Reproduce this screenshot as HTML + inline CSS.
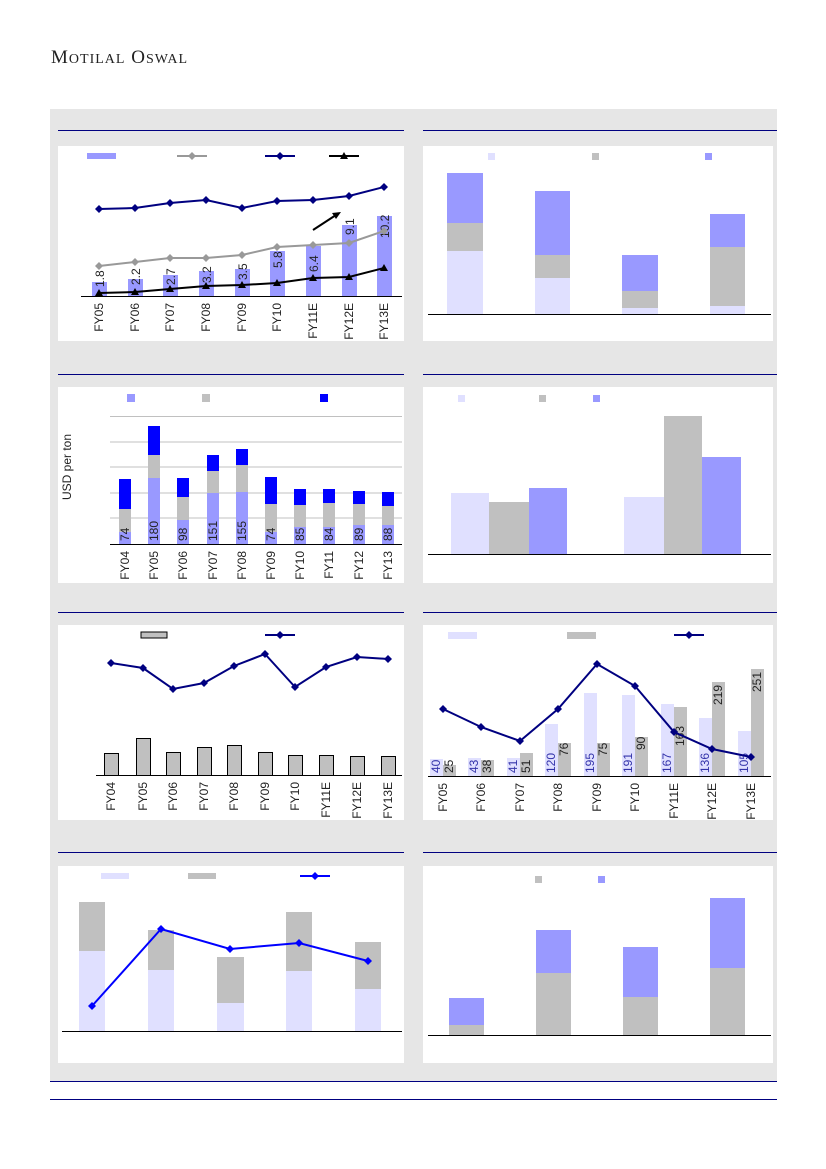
<!DOCTYPE html>
<html><head><meta charset="utf-8"><style>
html,body{margin:0;padding:0;background:#fff;}
svg{display:block;font-family:"Liberation Sans",sans-serif;}
</style></head><body>
<svg width="826" height="1169" viewBox="0 0 826 1169" xmlns="http://www.w3.org/2000/svg">
<text x="51" y="63" font-family="Liberation Serif,serif" font-size="19" fill="#222" letter-spacing="1">M<tspan font-size="14">OTILAL</tspan> O<tspan font-size="14">SWAL</tspan></text>
<rect x="50" y="109" width="727" height="972" fill="#e6e6e6"/>
<line x1="50" y1="1081.5" x2="777" y2="1081.5" stroke="#000080" stroke-width="1"/>
<line x1="50" y1="1099.5" x2="777" y2="1099.5" stroke="#000080" stroke-width="1"/>
<g stroke="#000080" stroke-width="1">
<line x1="58" y1="130.5" x2="404" y2="130.5"/><line x1="423" y1="130.5" x2="777" y2="130.5"/>
<line x1="58" y1="374.5" x2="404" y2="374.5"/><line x1="423" y1="374.5" x2="777" y2="374.5"/>
<line x1="58" y1="612.5" x2="404" y2="612.5"/><line x1="423" y1="612.5" x2="777" y2="612.5"/>
<line x1="58" y1="852.5" x2="404" y2="852.5"/><line x1="423" y1="852.5" x2="777" y2="852.5"/>
</g>
<g fill="#fff">
<rect x="58" y="146" width="346" height="195"/><rect x="423" y="146" width="350" height="195"/>
<rect x="58" y="387" width="346" height="196"/><rect x="423" y="387" width="350" height="196"/>
<rect x="58" y="625" width="346" height="195"/><rect x="423" y="625" width="350" height="195"/>
<rect x="58" y="866" width="346" height="197"/><rect x="423" y="866" width="350" height="197"/>
</g>

<!-- Chart 1 -->
<rect x="87" y="153" width="29" height="6" fill="#9999ff"/>
<line x1="177" y1="156" x2="207" y2="156" stroke="#999" stroke-width="2"/><path d="M192 152l4 4-4 4-4-4z" fill="#999"/>
<line x1="265" y1="156" x2="295" y2="156" stroke="#000080" stroke-width="2"/><path d="M280 152l4 4-4 4-4-4z" fill="#000080"/>
<line x1="329" y1="156" x2="359" y2="156" stroke="#000" stroke-width="2"/><path d="M344 152l4 7h-8z" fill="#000"/>
<g fill="#9999ff">
<rect x="92" y="282" width="15" height="14"/><rect x="128" y="279" width="15" height="17"/><rect x="163" y="275" width="15" height="21"/><rect x="199" y="271" width="15" height="25"/><rect x="235" y="269" width="15" height="27"/><rect x="270" y="251" width="15" height="45"/><rect x="306" y="246" width="15" height="50"/><rect x="342" y="225" width="15" height="71"/><rect x="377" y="216" width="15" height="80"/>
</g>
<line x1="81" y1="296.5" x2="402" y2="296.5" stroke="#000"/>
<g font-size="12" fill="#222" text-anchor="start">
<text transform="translate(104,287) rotate(-90)">1.8</text>
<text transform="translate(140,285) rotate(-90)">2.2</text>
<text transform="translate(175,285) rotate(-90)">2.7</text>
<text transform="translate(211,283) rotate(-90)">3.2</text>
<text transform="translate(247,280) rotate(-90)">3.5</text>
<text transform="translate(282,268) rotate(-90)">5.8</text>
<text transform="translate(318,272) rotate(-90)">6.4</text>
<text transform="translate(354,235) rotate(-90)">9.1</text>
<text transform="translate(389,238) rotate(-90)">10.2</text>
</g>
<polyline points="99,266 135,262 170,258 206,258 242,255 277,247 313,245 349,243 384,231" fill="none" stroke="#999" stroke-width="2"/>
<g fill="#999"><path d="M99 262l4 4-4 4-4-4zM135 258l4 4-4 4-4-4zM170 254l4 4-4 4-4-4zM206 254l4 4-4 4-4-4zM242 251l4 4-4 4-4-4zM277 243l4 4-4 4-4-4zM313 241l4 4-4 4-4-4zM349 239l4 4-4 4-4-4zM384 227l4 4-4 4-4-4z"/></g>
<polyline points="99,209 135,208 170,203 206,200 242,208 277,201 313,200 349,196 384,187" fill="none" stroke="#000080" stroke-width="2"/>
<g fill="#000080"><path d="M99 205l4 4-4 4-4-4zM135 204l4 4-4 4-4-4zM170 199l4 4-4 4-4-4zM206 196l4 4-4 4-4-4zM242 204l4 4-4 4-4-4zM277 197l4 4-4 4-4-4zM313 196l4 4-4 4-4-4zM349 192l4 4-4 4-4-4zM384 183l4 4-4 4-4-4z"/></g>
<polyline points="99,293 135,292 170,289 206,286 242,285 277,283 313,278 349,277 384,268" fill="none" stroke="#000" stroke-width="2"/>
<g fill="#000"><path d="M99 289l4 7h-8zM135 288l4 7h-8zM170 285l4 7h-8zM206 282l4 7h-8zM242 281l4 7h-8zM277 279l4 7h-8zM313 274l4 7h-8zM349 273l4 7h-8zM384 264l4 7h-8z"/></g>
<line x1="313" y1="230" x2="336" y2="215" stroke="#000" stroke-width="2"/><path d="M341 212l-9 1 4 6z" fill="#000"/>
<g font-size="12" fill="#222" text-anchor="end">
<text transform="translate(103,303) rotate(-90)">FY05</text>
<text transform="translate(139,303) rotate(-90)">FY06</text>
<text transform="translate(174,303) rotate(-90)">FY07</text>
<text transform="translate(210,303) rotate(-90)">FY08</text>
<text transform="translate(246,303) rotate(-90)">FY09</text>
<text transform="translate(281,303) rotate(-90)">FY10</text>
<text transform="translate(317,303) rotate(-90)">FY11E</text>
<text transform="translate(353,303) rotate(-90)">FY12E</text>
<text transform="translate(388,303) rotate(-90)">FY13E</text>
</g>

<!-- Chart 2 -->
<rect x="488" y="153" width="7" height="7" fill="#e0e0ff"/><rect x="592" y="153" width="7" height="7" fill="#c0c0c0"/><rect x="705" y="153" width="7" height="7" fill="#9999ff"/>
<rect x="447" y="251" width="36" height="63" fill="#e0e0ff"/><rect x="447" y="223" width="36" height="28" fill="#c0c0c0"/><rect x="447" y="173" width="36" height="50" fill="#9999ff"/>
<rect x="535" y="278" width="35" height="36" fill="#e0e0ff"/><rect x="535" y="255" width="35" height="23" fill="#c0c0c0"/><rect x="535" y="191" width="35" height="64" fill="#9999ff"/>
<rect x="622" y="308" width="36" height="6" fill="#e0e0ff"/><rect x="622" y="291" width="36" height="17" fill="#c0c0c0"/><rect x="622" y="255" width="36" height="36" fill="#9999ff"/>
<rect x="710" y="306" width="35" height="8" fill="#e0e0ff"/><rect x="710" y="247" width="35" height="59" fill="#c0c0c0"/><rect x="710" y="214" width="35" height="33" fill="#9999ff"/>
<line x1="428" y1="314.5" x2="771" y2="314.5" stroke="#000"/>

<!-- Chart 3 -->
<rect x="127" y="394" width="8" height="8" fill="#9999ff"/><rect x="202" y="394" width="8" height="8" fill="#c0c0c0"/><rect x="320" y="394" width="8" height="8" fill="#0000ff"/>
<g stroke="#c0c0c0"><line x1="110" y1="416.5" x2="402" y2="416.5"/><line x1="110" y1="442" x2="402" y2="442"/><line x1="110" y1="467" x2="402" y2="467"/><line x1="110" y1="493" x2="402" y2="493"/><line x1="110" y1="518" x2="402" y2="518"/></g>
<g>
<rect x="119" y="532" width="12" height="12" fill="#9999ff"/><rect x="119" y="509" width="12" height="23" fill="#c0c0c0"/><rect x="119" y="479" width="12" height="30" fill="#0000ff"/>
<rect x="148" y="478" width="12" height="66" fill="#9999ff"/><rect x="148" y="455" width="12" height="23" fill="#c0c0c0"/><rect x="148" y="426" width="12" height="29" fill="#0000ff"/>
<rect x="177" y="520" width="12" height="24" fill="#9999ff"/><rect x="177" y="497" width="12" height="23" fill="#c0c0c0"/><rect x="177" y="478" width="12" height="19" fill="#0000ff"/>
<rect x="207" y="493" width="12" height="51" fill="#9999ff"/><rect x="207" y="471" width="12" height="22" fill="#c0c0c0"/><rect x="207" y="455" width="12" height="16" fill="#0000ff"/>
<rect x="236" y="492" width="12" height="52" fill="#9999ff"/><rect x="236" y="465" width="12" height="27" fill="#c0c0c0"/><rect x="236" y="449" width="12" height="16" fill="#0000ff"/>
<rect x="265" y="532" width="12" height="12" fill="#9999ff"/><rect x="265" y="504" width="12" height="28" fill="#c0c0c0"/><rect x="265" y="477" width="12" height="27" fill="#0000ff"/>
<rect x="294" y="527" width="12" height="17" fill="#9999ff"/><rect x="294" y="505" width="12" height="22" fill="#c0c0c0"/><rect x="294" y="489" width="12" height="16" fill="#0000ff"/>
<rect x="323" y="527" width="12" height="17" fill="#9999ff"/><rect x="323" y="503" width="12" height="24" fill="#c0c0c0"/><rect x="323" y="489" width="12" height="14" fill="#0000ff"/>
<rect x="353" y="525" width="12" height="19" fill="#9999ff"/><rect x="353" y="504" width="12" height="21" fill="#c0c0c0"/><rect x="353" y="491" width="12" height="13" fill="#0000ff"/>
<rect x="382" y="525" width="12" height="19" fill="#9999ff"/><rect x="382" y="506" width="12" height="19" fill="#c0c0c0"/><rect x="382" y="492" width="12" height="14" fill="#0000ff"/>
</g>
<line x1="110" y1="544.5" x2="402" y2="544.5" stroke="#000"/>
<text transform="translate(71,467) rotate(-90)" font-size="12" fill="#222" text-anchor="middle">USD per  ton</text>
<g font-size="12" fill="#222" text-anchor="start">
<text transform="translate(129,541) rotate(-90)">74</text>
<text transform="translate(158,541) rotate(-90)">180</text>
<text transform="translate(187,541) rotate(-90)">98</text>
<text transform="translate(217,541) rotate(-90)">151</text>
<text transform="translate(246,541) rotate(-90)">155</text>
<text transform="translate(275,541) rotate(-90)">74</text>
<text transform="translate(304,541) rotate(-90)">85</text>
<text transform="translate(333,541) rotate(-90)">84</text>
<text transform="translate(363,541) rotate(-90)">89</text>
<text transform="translate(392,541) rotate(-90)">88</text>
</g>
<g font-size="12" fill="#222" text-anchor="end">
<text transform="translate(129,551) rotate(-90)">FY04</text>
<text transform="translate(158,551) rotate(-90)">FY05</text>
<text transform="translate(187,551) rotate(-90)">FY06</text>
<text transform="translate(217,551) rotate(-90)">FY07</text>
<text transform="translate(246,551) rotate(-90)">FY08</text>
<text transform="translate(275,551) rotate(-90)">FY09</text>
<text transform="translate(304,551) rotate(-90)">FY10</text>
<text transform="translate(333,551) rotate(-90)">FY11</text>
<text transform="translate(363,551) rotate(-90)">FY12</text>
<text transform="translate(392,551) rotate(-90)">FY13</text>
</g>

<!-- Chart 4 -->
<rect x="458" y="395" width="7" height="7" fill="#e0e0ff"/><rect x="539" y="395" width="7" height="7" fill="#c0c0c0"/><rect x="593" y="395" width="7" height="7" fill="#9999ff"/>
<rect x="451" y="493" width="38" height="61" fill="#e0e0ff"/><rect x="489" y="502" width="40" height="52" fill="#c0c0c0"/><rect x="529" y="488" width="38" height="66" fill="#9999ff"/>
<rect x="624" y="497" width="40" height="57" fill="#e0e0ff"/><rect x="664" y="416" width="38" height="138" fill="#c0c0c0"/><rect x="702" y="457" width="39" height="97" fill="#9999ff"/>
<line x1="428" y1="554.5" x2="771" y2="554.5" stroke="#000"/>

<!-- Chart 5 -->
<rect x="141" y="632" width="26" height="6" fill="#c0c0c0" stroke="#000" stroke-width="1"/>
<line x1="265" y1="635" x2="295" y2="635" stroke="#000080" stroke-width="2"/><path d="M280 631l4 4-4 4-4-4z" fill="#000080"/>
<g fill="#c0c0c0" stroke="#000" stroke-width="1">
<rect x="104.5" y="753.5" width="14" height="22"/><rect x="136.5" y="738.5" width="14" height="37"/><rect x="166.5" y="752.5" width="14" height="23"/><rect x="197.5" y="747.5" width="14" height="28"/><rect x="227.5" y="745.5" width="14" height="30"/><rect x="258.5" y="752.5" width="14" height="23"/><rect x="288.5" y="755.5" width="14" height="20"/><rect x="319.5" y="755.5" width="14" height="20"/><rect x="350.5" y="756.5" width="14" height="19"/><rect x="381.5" y="756.5" width="14" height="19"/>
</g>
<line x1="96" y1="775.5" x2="402" y2="775.5" stroke="#000"/>
<polyline points="111,663 143,668 173,689 204,683 234,666 265,654 295,687 326,667 357,657 388,659" fill="none" stroke="#000080" stroke-width="2"/>
<g fill="#000080"><path d="M111 659l4 4-4 4-4-4zM143 664l4 4-4 4-4-4zM173 685l4 4-4 4-4-4zM204 679l4 4-4 4-4-4zM234 662l4 4-4 4-4-4zM265 650l4 4-4 4-4-4zM295 683l4 4-4 4-4-4zM326 663l4 4-4 4-4-4zM357 653l4 4-4 4-4-4zM388 655l4 4-4 4-4-4z"/></g>
<g font-size="12" fill="#222" text-anchor="end">
<text transform="translate(115,782) rotate(-90)">FY04</text>
<text transform="translate(147,782) rotate(-90)">FY05</text>
<text transform="translate(177,782) rotate(-90)">FY06</text>
<text transform="translate(208,782) rotate(-90)">FY07</text>
<text transform="translate(238,782) rotate(-90)">FY08</text>
<text transform="translate(269,782) rotate(-90)">FY09</text>
<text transform="translate(299,782) rotate(-90)">FY10</text>
<text transform="translate(330,782) rotate(-90)">FY11E</text>
<text transform="translate(361,782) rotate(-90)">FY12E</text>
<text transform="translate(392,782) rotate(-90)">FY13E</text>
</g>

<!-- Chart 6 -->
<rect x="448" y="632" width="29" height="7" fill="#e0e0ff"/><rect x="567" y="632" width="29" height="7" fill="#c0c0c0"/>
<line x1="674" y1="635" x2="704" y2="635" stroke="#000080" stroke-width="2"/><path d="M689 631l4 4-4 4-4-4z" fill="#000080"/>
<g>
<rect x="430" y="759" width="13" height="17" fill="#e0e0ff"/><rect x="443" y="765" width="13" height="11" fill="#c0c0c0"/>
<rect x="468" y="758" width="13" height="18" fill="#e0e0ff"/><rect x="481" y="760" width="13" height="16" fill="#c0c0c0"/>
<rect x="507" y="758" width="13" height="18" fill="#e0e0ff"/><rect x="520" y="753" width="13" height="23" fill="#c0c0c0"/>
<rect x="545" y="724" width="13" height="52" fill="#e0e0ff"/><rect x="558" y="743" width="13" height="33" fill="#c0c0c0"/>
<rect x="584" y="693" width="13" height="83" fill="#e0e0ff"/><rect x="597" y="743" width="13" height="33" fill="#c0c0c0"/>
<rect x="622" y="695" width="13" height="81" fill="#e0e0ff"/><rect x="635" y="737" width="13" height="39" fill="#c0c0c0"/>
<rect x="661" y="704" width="13" height="72" fill="#e0e0ff"/><rect x="674" y="707" width="13" height="69" fill="#c0c0c0"/>
<rect x="699" y="718" width="13" height="58" fill="#e0e0ff"/><rect x="712" y="682" width="13" height="94" fill="#c0c0c0"/>
<rect x="738" y="731" width="13" height="45" fill="#e0e0ff"/><rect x="751" y="669" width="13" height="107" fill="#c0c0c0"/>
</g>
<line x1="428" y1="776.5" x2="771" y2="776.5" stroke="#000"/>
<g font-size="12" text-anchor="start">
<g fill="#3333aa">
<text transform="translate(440,773) rotate(-90)">40</text>
<text transform="translate(478,773) rotate(-90)">43</text>
<text transform="translate(517,773) rotate(-90)">41</text>
<text transform="translate(555,773) rotate(-90)">120</text>
<text transform="translate(594,773) rotate(-90)">195</text>
<text transform="translate(632,773) rotate(-90)">191</text>
<text transform="translate(671,773) rotate(-90)">167</text>
<text transform="translate(709,773) rotate(-90)">136</text>
<text transform="translate(748,773) rotate(-90)">105</text>
</g>
<g fill="#222">
<text transform="translate(453,773) rotate(-90)">25</text>
<text transform="translate(491,773) rotate(-90)">38</text>
<text transform="translate(530,773) rotate(-90)">51</text>
<text transform="translate(568,756) rotate(-90)">76</text>
<text transform="translate(607,756) rotate(-90)">75</text>
<text transform="translate(645,750) rotate(-90)">90</text>
<text transform="translate(684,746) rotate(-90)">163</text>
<text transform="translate(722,705) rotate(-90)">219</text>
<text transform="translate(761,692) rotate(-90)">251</text>
</g>
</g>
<polyline points="443,709 481,727 520,741 558,709 597,664 635,686 674,732 712,749 751,757" fill="none" stroke="#000080" stroke-width="2"/>
<g fill="#000080"><path d="M443 705l4 4-4 4-4-4zM481 723l4 4-4 4-4-4zM520 737l4 4-4 4-4-4zM558 705l4 4-4 4-4-4zM597 660l4 4-4 4-4-4zM635 682l4 4-4 4-4-4zM674 728l4 4-4 4-4-4zM712 745l4 4-4 4-4-4zM751 753l4 4-4 4-4-4z"/></g>
<g font-size="12" fill="#222" text-anchor="end">
<text transform="translate(447,783) rotate(-90)">FY05</text>
<text transform="translate(485,783) rotate(-90)">FY06</text>
<text transform="translate(524,783) rotate(-90)">FY07</text>
<text transform="translate(562,783) rotate(-90)">FY08</text>
<text transform="translate(601,783) rotate(-90)">FY09</text>
<text transform="translate(639,783) rotate(-90)">FY10</text>
<text transform="translate(678,783) rotate(-90)">FY11E</text>
<text transform="translate(716,783) rotate(-90)">FY12E</text>
<text transform="translate(755,783) rotate(-90)">FY13E</text>
</g>

<!-- Chart 7 -->
<rect x="101" y="873" width="28" height="6" fill="#e0e0ff"/><rect x="188" y="873" width="28" height="6" fill="#c0c0c0"/>
<line x1="300" y1="876" x2="330" y2="876" stroke="#0000ff" stroke-width="2"/><path d="M315 872l4 4-4 4-4-4z" fill="#0000ff"/>
<rect x="79" y="951" width="26" height="80" fill="#e0e0ff"/><rect x="79" y="902" width="26" height="49" fill="#c0c0c0"/>
<rect x="148" y="970" width="26" height="61" fill="#e0e0ff"/><rect x="148" y="930" width="26" height="40" fill="#c0c0c0"/>
<rect x="217" y="1003" width="27" height="28" fill="#e0e0ff"/><rect x="217" y="957" width="27" height="46" fill="#c0c0c0"/>
<rect x="286" y="971" width="26" height="60" fill="#e0e0ff"/><rect x="286" y="912" width="26" height="59" fill="#c0c0c0"/>
<rect x="355" y="989" width="26" height="42" fill="#e0e0ff"/><rect x="355" y="942" width="26" height="47" fill="#c0c0c0"/>
<line x1="62" y1="1031.5" x2="402" y2="1031.5" stroke="#000"/>
<polyline points="92,1006 161,929 230,949 299,943 368,961" fill="none" stroke="#0000ff" stroke-width="2"/>
<g fill="#0000ff"><path d="M92 1002l4 4-4 4-4-4zM161 925l4 4-4 4-4-4zM230 945l4 4-4 4-4-4zM299 939l4 4-4 4-4-4zM368 957l4 4-4 4-4-4z"/></g>

<!-- Chart 8 -->
<rect x="535" y="876" width="7" height="7" fill="#c0c0c0"/><rect x="598" y="876" width="7" height="7" fill="#9999ff"/>
<rect x="449" y="1025" width="35" height="10" fill="#c0c0c0"/><rect x="449" y="998" width="35" height="27" fill="#9999ff"/>
<rect x="536" y="973" width="35" height="62" fill="#c0c0c0"/><rect x="536" y="930" width="35" height="43" fill="#9999ff"/>
<rect x="623" y="997" width="35" height="38" fill="#c0c0c0"/><rect x="623" y="947" width="35" height="50" fill="#9999ff"/>
<rect x="710" y="968" width="35" height="67" fill="#c0c0c0"/><rect x="710" y="898" width="35" height="70" fill="#9999ff"/>
<line x1="428" y1="1035.5" x2="771" y2="1035.5" stroke="#000"/>
</svg>
</body></html>
